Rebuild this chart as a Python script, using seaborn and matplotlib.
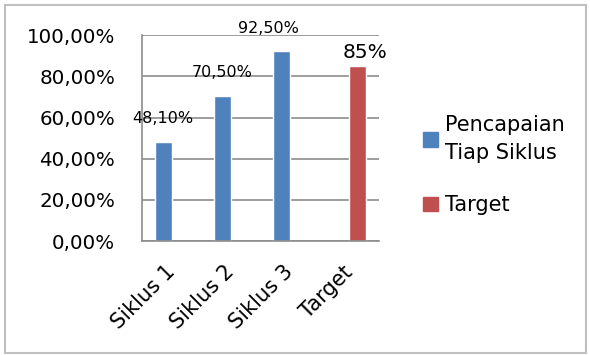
import matplotlib
matplotlib.use("Agg")
import matplotlib.pyplot as plt
import matplotlib.patches as mpatches
import matplotlib.transforms as mtransforms
import numpy as np
import pandas as pd
import seaborn as sns

kategori = ["Siklus 1", "Siklus 2", "Siklus 3", "Target"]
seri = ["Pencapaian Tiap Siklus", "Pencapaian Tiap Siklus", "Pencapaian Tiap Siklus", "Target"]
nilai = [48.1, 70.5, 92.5, 85.0]
label_nilai = ["48,10%", "70,50%", "92,50%", "85%"]
y_ticks = [0, 20, 40, 60, 80, 100]
y_ticklabels = ["0,00%", "20,00%", "40,00%", "60,00%", "80,00%", "100,00%"]
warna = {"Pencapaian Tiap Siklus": "#4F81BD", "Target": "#C0504D"}

df = pd.DataFrame({"kategori": kategori, "seri": seri, "nilai": nilai})

sns.set_style("white")
plt.rcParams["font.family"] = ["DejaVu Sans"]
plt.rcParams["text.color"] = "black"
plt.rcParams["xtick.color"] = "black"
plt.rcParams["ytick.color"] = "black"

fig = plt.figure(figsize=(5.9, 3.55), dpi=100)
ax = fig.add_axes([0.241, 0.321, 0.401, 0.580])

sns.barplot(data=df, x="kategori", y="nilai", hue="seri", order=kategori,
            hue_order=list(warna.keys()), palette=warna, dodge=True,
            width=0.576, saturation=1, legend=False, ax=ax)

ax.set_ylim(0, 100)
ax.set_xlim(-0.5, 3.5)
ax.set_yticks(y_ticks)
ax.set_yticklabels(y_ticklabels, fontsize=14.3)
ax.yaxis.grid(True, color="#8c8c8c", linewidth=1.2)
ax.set_axisbelow(True)
ax.set_xlabel("")
ax.set_ylabel("")
for s in ["top", "right"]:
    ax.spines[s].set_visible(False)
for s in ["left", "bottom"]:
    ax.spines[s].set_color("#8c8c8c")
    ax.spines[s].set_linewidth(1.2)
ax.tick_params(axis="y", length=6.5, color="#8c8c8c", labelcolor="black", width=1.2, pad=13)
ax.set_xticks(range(len(kategori)))
ax.set_xticklabels(kategori, rotation=45, ha="right", rotation_mode="anchor", fontsize=15)
ax.tick_params(axis="x", which="major", length=0, pad=10, labelcolor="black")
geser = mtransforms.ScaledTranslation(-5 / 72, -5 / 72, fig.dpi_scale_trans)
for lbl in ax.get_xticklabels():
    lbl.set_transform(lbl.get_transform() + geser)
ax.set_xticks(np.arange(-0.5, len(kategori)), minor=True)
ax.tick_params(axis="x", which="minor", length=5, color="#8c8c8c", width=1.2)

# data labels
bars = [p for p in ax.patches if p.get_height() > 0]
bars.sort(key=lambda p: p.get_x())
offsets = [(0, 17, 11.5), (0, 17, 11.5), (-9.5, 16, 11.5), (5, 10, 14.5)]
for p, lab, (dx, dy, fs) in zip(bars, label_nilai, offsets):
    ax.annotate(lab, (p.get_x() + p.get_width() / 2, p.get_height()),
                xytext=(dx, dy), textcoords="offset points",
                ha="center", va="center", fontsize=fs, color="black",
                annotation_clip=False)

handles = [mpatches.Patch(color=warna[k]) for k in warna]
leg = fig.legend(handles, ["Pencapaian\nTiap Siklus", "Target"],
                 loc="center left", bbox_to_anchor=(0.686, 0.535),
                 frameon=False, fontsize=15, handlelength=0.7, handleheight=0.7,
                 handletextpad=0.35, labelspacing=1.55)
for t in leg.get_texts():
    t.set_linespacing(1.5)
    t.set_color("black")

fig.patches.append(mpatches.Rectangle((0.009, 0.006), 0.984, 0.98, transform=fig.transFigure,
                                      fill=False, edgecolor="#bfbfbf", linewidth=1.5))

fig.savefig("out.png", dpi=100)
